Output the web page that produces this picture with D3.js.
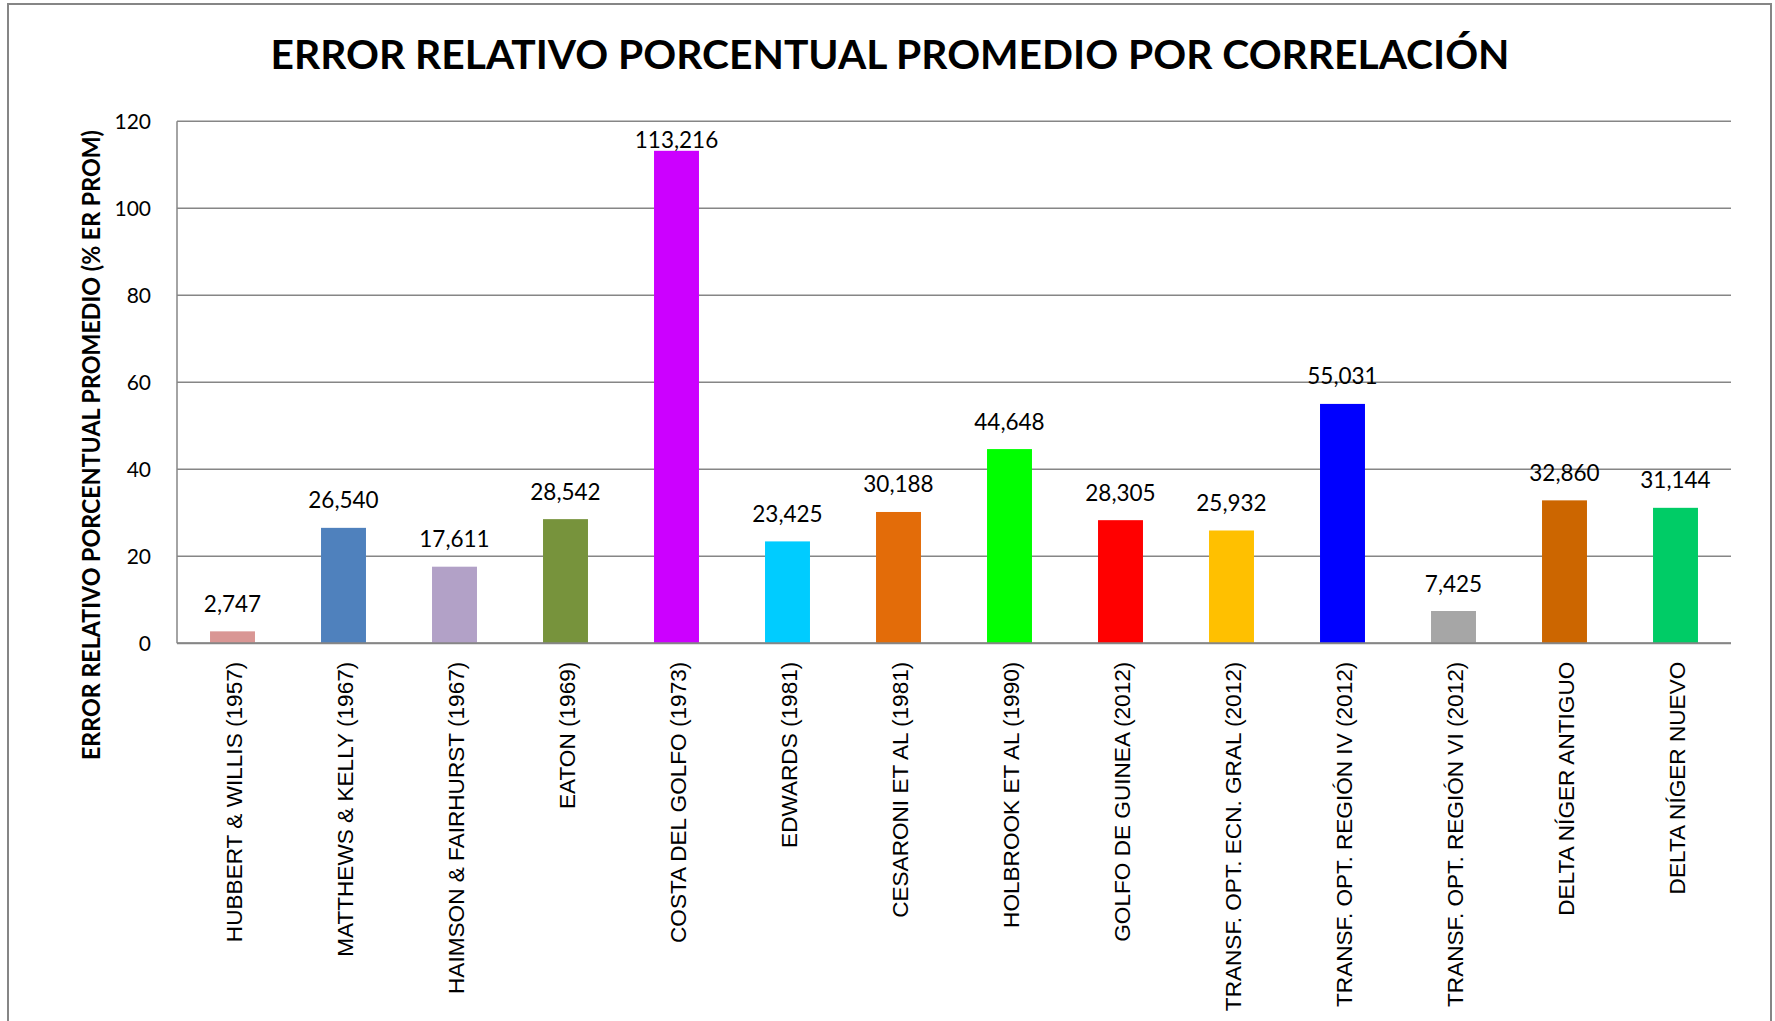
<!DOCTYPE html>
<html>
<head>
<meta charset="utf-8">
<script src="https://cdn.jsdelivr.net/npm/d3@7"></script>
<style>
  html, body { margin: 0; padding: 0; background: #fff; }
  svg { display: block; }
</style>
</head>
<body>
<svg id="chart" width="1775" height="1021"></svg>
<script>
// datos
const categorias = [
  "HUBBERT & WILLIS (1957)",
  "MATTHEWS & KELLY (1967)",
  "HAIMSON & FAIRHURST (1967)",
  "EATON (1969)",
  "COSTA DEL GOLFO (1973)",
  "EDWARDS (1981)",
  "CESARONI ET AL (1981)",
  "HOLBROOK ET AL (1990)",
  "GOLFO DE GUINEA (2012)",
  "TRANSF. OPT. ECN. GRAL (2012)",
  "TRANSF. OPT. REGIÓN IV (2012)",
  "TRANSF. OPT. REGIÓN VI (2012)",
  "DELTA NÍGER ANTIGUO",
  "DELTA NÍGER NUEVO"
];
const errores = [2.747, 26.540, 17.611, 28.542, 113.216, 23.425, 30.188, 44.648, 28.305, 25.932, 55.031, 7.425, 32.860, 31.144];
const colores = ["#D99694", "#4F81BD", "#B2A1C7", "#77933C", "#CC00FF", "#00CCFF", "#E36C09",
                 "#00FF00", "#FF0000", "#FFC000", "#0000FF", "#A6A6A6", "#CC6600", "#00CC66"];
const ticksY = [0, 20, 40, 60, 80, 100, 120];
const titulo = "ERROR RELATIVO PORCENTUAL PROMEDIO POR CORRELACIÓN";
const tituloY = "ERROR RELATIVO PORCENTUAL PROMEDIO (% ER PROM)";

const svg = d3.select("#chart");
const fuente = "Lato, 'Open Sans', sans-serif";
const gris = "#868686";

const plot = { left: 177, right: 1731, top: 121.3, bottom: 643.3 };

// marco exterior
svg.append("rect")
  .attr("x", 8).attr("y", 4)
  .attr("width", 1763).attr("height", 1060)
  .attr("fill", "#fff")
  .attr("stroke", gris)
  .attr("stroke-width", 2);

const x = d3.scaleBand()
  .domain(categorias)
  .range([plot.left, plot.right])
  .paddingInner(0.595)
  .paddingOuter(0.2975);

const y = d3.scaleLinear()
  .domain([0, 120])
  .range([plot.bottom, plot.top]);

// líneas de cuadrícula
svg.append("g")
  .selectAll("line")
  .data(ticksY)
  .join("line")
  .attr("x1", plot.left).attr("x2", plot.right)
  .attr("y1", d => y(d)).attr("y2", d => y(d))
  .attr("stroke", gris)
  .attr("stroke-width", 1.5);

// eje y (línea vertical)
svg.append("line")
  .attr("x1", plot.left).attr("x2", plot.left)
  .attr("y1", plot.top).attr("y2", plot.bottom)
  .attr("stroke", gris)
  .attr("stroke-width", 1.5);

// etiquetas del eje y
svg.append("g")
  .selectAll("text")
  .data(ticksY)
  .join("text")
  .attr("x", 151)
  .attr("y", d => y(d))
  .attr("dy", "0.36em")
  .attr("text-anchor", "end")
  .style("font-family", fuente)
  .style("font-size", "21px")
  .style("fill", "#000")
  .text(d => d);

// barras
svg.append("g")
  .selectAll("rect")
  .data(errores)
  .join("rect")
  .attr("x", (d, i) => x(categorias[i]))
  .attr("y", d => y(d))
  .attr("width", x.bandwidth())
  .attr("height", d => plot.bottom - y(d))
  .attr("fill", (d, i) => colores[i]);

// eje x sobre las barras
svg.append("line")
  .attr("x1", plot.left).attr("x2", plot.right)
  .attr("y1", plot.bottom).attr("y2", plot.bottom)
  .attr("stroke", gris)
  .attr("stroke-width", 2);

// etiquetas de datos (coma decimal)
const fmt = v => d3.format(".3f")(v).replace(".", ",");
svg.append("g")
  .selectAll("text")
  .data(errores)
  .join("text")
  .attr("x", (d, i) => x(categorias[i]) + x.bandwidth() / 2)
  .attr("y", d => Math.max(y(d) - 19.5, plot.top + 27))
  .attr("text-anchor", "middle")
  .style("font-family", fuente)
  .style("font-size", "22.5px")
  .style("fill", "#000")
  .text(fmt);

// categorías rotadas
svg.append("g")
  .selectAll("text")
  .data(categorias)
  .join("text")
  .attr("transform", d => `translate(${x(d) + x.bandwidth() / 2 + 1},661.7) rotate(-90)`)
  .attr("dy", "0.36em")
  .attr("text-anchor", "end")
  .style("font-family", "'Liberation Sans', Arial, sans-serif")
  .style("font-size", "22.6px")
  .style("fill", "#000")
  .text(d => d);

// título del eje y
svg.append("text")
  .attr("transform", "translate(91,445) rotate(-90)")
  .attr("dy", "0.36em")
  .attr("text-anchor", "middle")
  .attr("textLength", 630)
  .attr("lengthAdjust", "spacingAndGlyphs")
  .style("font-family", fuente)
  .style("font-weight", "bold")
  .style("font-size", "25px")
  .style("fill", "#000")
  .text(tituloY);

// título
svg.append("text")
  .attr("x", 890)
  .attr("y", 69.3)
  .attr("text-anchor", "middle")
  .attr("textLength", 1239)
  .attr("lengthAdjust", "spacingAndGlyphs")
  .style("font-family", fuente)
  .style("font-weight", "bold")
  .style("font-size", "40px")
  .style("fill", "#000")
  .text(titulo);
</script>
</body>
</html>
